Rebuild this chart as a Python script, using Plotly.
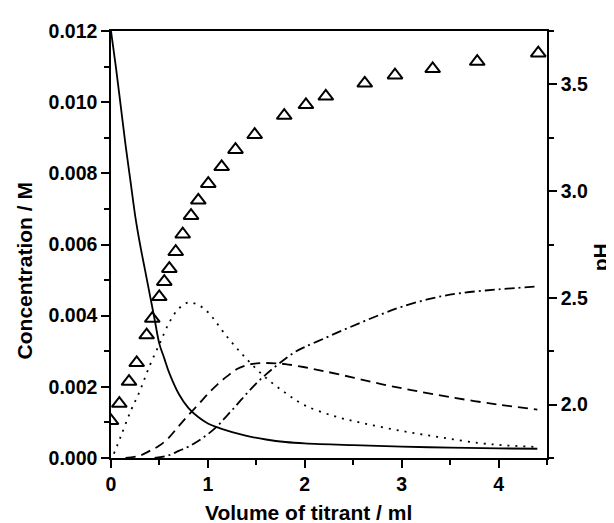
import plotly.graph_objects as go

# pH data (triangles, right axis)
ph_x = [0, 0.086, 0.186, 0.265, 0.368, 0.426, 0.498, 0.550, 0.602, 0.668, 0.740, 0.826, 0.901,
        1.004, 1.142, 1.285, 1.483, 1.788, 2.012, 2.217, 2.619, 2.931, 3.320, 3.780, 4.410]
ph_y = [1.924, 2.005, 2.108, 2.196, 2.326, 2.403, 2.505, 2.576, 2.637, 2.716, 2.798, 2.885, 2.957,
        3.035, 3.114, 3.194, 3.264, 3.354, 3.404, 3.444, 3.505, 3.543, 3.573, 3.607, 3.646]

# solid curve
solid_x = [0, 0.05, 0.1, 0.15, 0.2, 0.25, 0.3, 0.35, 0.4, 0.45, 0.5, 0.55, 0.6, 0.7, 0.8, 0.9, 1.0,
           1.1, 1.2, 1.3, 1.4, 1.6, 1.8, 2.0, 2.5, 3.0, 3.5, 4.0, 4.4]
solid_y = [0.0120, 0.0110, 0.0099, 0.0088, 0.0078, 0.0068, 0.0060, 0.0053, 0.0046, 0.0039, 0.0032,
           0.0028, 0.0024, 0.0018, 0.0014, 0.00115, 0.00097, 0.00086, 0.00077, 0.00069, 0.00062,
           0.00052, 0.00045, 0.00041, 0.00036, 0.00032, 0.00029, 0.00027, 0.00026]

# dotted curve
dot_x = [0.03, 0.1, 0.2, 0.3, 0.4, 0.5, 0.6, 0.7, 0.8, 0.9, 1.0, 1.2, 1.4, 1.6, 1.8, 2.0, 2.3,
         2.6, 3.0, 3.4, 3.8, 4.1, 4.4]
dot_y = [0.00012, 0.0006, 0.0013, 0.0019, 0.0026, 0.0032, 0.0038, 0.0042, 0.00437, 0.0043, 0.0041,
         0.0034, 0.00278, 0.00225, 0.00183, 0.00148, 0.00118, 0.00098, 0.00076, 0.00058, 0.00042,
         0.00035, 0.00031]

# dashed curve
dash_x = [0.15, 0.3, 0.4, 0.5, 0.6, 0.7, 0.8, 0.9, 1.0, 1.1, 1.2, 1.3, 1.4, 1.5, 1.6, 1.7, 1.8,
          2.0, 2.2, 2.5, 2.8, 3.1, 3.5, 4.0, 4.4]
dash_y = [0.0, 0.00007, 0.0002, 0.00035, 0.00058, 0.0009, 0.00121, 0.0015, 0.0018, 0.00207, 0.0023,
          0.0025, 0.00261, 0.00266, 0.00267, 0.00266, 0.00264, 0.00255, 0.00244, 0.00226, 0.00207,
          0.00191, 0.00171, 0.0015, 0.00136]

# dash-dot curve
dd_x = [0.45, 0.6, 0.7, 0.8, 0.9, 1.0, 1.1, 1.2, 1.3, 1.4, 1.5, 1.6, 1.7, 1.8, 1.9, 2.0, 2.2, 2.4,
        2.6, 2.8, 3.0, 3.3, 3.6, 4.0, 4.4]
dd_y = [0.0, 0.00008, 0.0002, 0.00032, 0.00048, 0.00067, 0.0009, 0.0012, 0.0015, 0.00181, 0.0021,
        0.00235, 0.00258, 0.00279, 0.00298, 0.00312, 0.00336, 0.0036, 0.00383, 0.00405, 0.00425,
        0.00448, 0.00463, 0.00474, 0.00482]

x_ticks = [0, 1, 2, 3, 4]
y_ticks = [0.000, 0.002, 0.004, 0.006, 0.008, 0.010, 0.012]
ph_ticks = [2.0, 2.5, 3.0, 3.5]

FONT = "Liberation Sans, Arial, sans-serif"
LW = 1.8

fig = go.Figure()
fig.add_trace(go.Scatter(x=solid_x, y=solid_y, mode="lines", line=dict(color="black", width=LW, shape="spline"), name="solid"))
fig.add_trace(go.Scatter(x=dot_x, y=dot_y, mode="lines", line=dict(color="black", width=LW, dash="2px,6px", shape="spline"), name="dotted"))
fig.add_trace(go.Scatter(x=dash_x, y=dash_y, mode="lines", line=dict(color="black", width=LW, dash="10px,6px", shape="spline"), name="dashed"))
fig.add_trace(go.Scatter(x=dd_x, y=dd_y, mode="lines", line=dict(color="black", width=LW, dash="10px,4px,2px,4px", shape="spline"), name="dashdot"))
fig.add_trace(go.Scatter(x=ph_x, y=ph_y, mode="markers", yaxis="y2",
                         marker=dict(symbol="triangle-up-open", size=13, color="black", line=dict(width=2, color="black")),
                         name="pH"))

axis_common = dict(showline=True, linecolor="black", linewidth=1.5, showgrid=False, zeroline=False,
                   ticks="outside", ticklen=8, tickwidth=1.5, tickcolor="black",
                   tickfont=dict(family=FONT, size=19.5, color="black", weight="bold"))

fig.update_layout(
    width=606, height=515,
    margin=dict(l=103, r=67, t=14, b=65),
    paper_bgcolor="white", plot_bgcolor="white",
    showlegend=False,
    xaxis=dict(range=[0, 4.5], tickvals=x_ticks, mirror=True,
               minor=dict(dtick=0.5, tick0=0, ticklen=5, tickwidth=1.5, tickcolor="black", ticks="outside"),
               **axis_common),
    yaxis=dict(range=[0, 0.012], tickvals=y_ticks, tickformat=".3f",
               minor=dict(dtick=0.001, tick0=0, ticklen=5, tickwidth=1.5, tickcolor="black", ticks="outside"),
               **axis_common),
    yaxis2=dict(range=[1.75, 3.75], tickvals=ph_ticks, tickformat=".1f", overlaying="y", side="right",
                minor=dict(dtick=0.25, tick0=0, ticklen=5, tickwidth=1.5, tickcolor="black", ticks="outside"),
                **axis_common),
    annotations=[
        dict(text="Volume of titrant / ml", xref="paper", yref="paper", x=0.452, y=-0.128,
             xanchor="center", yanchor="middle", showarrow=False,
             font=dict(family=FONT, size=21, color="black", weight="bold")),
        dict(text="Concentration / M", xref="paper", yref="paper", x=-0.1995, y=0.437, textangle=-90,
             xanchor="center", yanchor="middle", showarrow=False,
             font=dict(family=FONT, size=21, color="black", weight="bold")),
        dict(text="pH", xref="paper", yref="paper", x=1.1216, y=0.470, textangle=-90,
             xanchor="center", yanchor="middle", showarrow=False,
             font=dict(family=FONT, size=21, color="black", weight="bold")),
    ],
)

fig.write_html("out.html")
